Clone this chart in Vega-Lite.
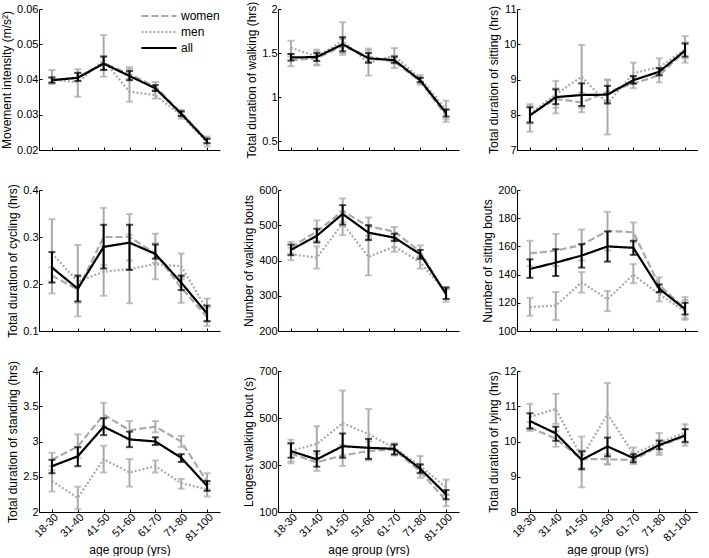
{
"$schema":"https://vega.github.io/schema/vega-lite/v6.json",
"padding":{"left":0,"top":1,"right":0,"bottom":0},
"background":"white",
"data":{"values":[
{"m":"a","a":"18-30","g":"women","v":0.0398,"lo":0.0391,"hi":0.0405},
{"m":"a","a":"31-40","g":"women","v":0.0405,"lo":0.0395,"hi":0.0418},
{"m":"a","a":"41-50","g":"women","v":0.0447,"lo":0.0428,"hi":0.0466},
{"m":"a","a":"51-60","g":"women","v":0.0415,"lo":0.0402,"hi":0.0430},
{"m":"a","a":"61-70","g":"women","v":0.0380,"lo":0.0370,"hi":0.0393},
{"m":"a","a":"71-80","g":"women","v":0.0305,"lo":0.0297,"hi":0.0314},
{"m":"a","a":"81-100","g":"women","v":0.0228,"lo":0.0220,"hi":0.0238},
{"m":"a","a":"18-30","g":"men","v":0.0400,"lo":0.0387,"hi":0.0427},
{"m":"a","a":"31-40","g":"men","v":0.0392,"lo":0.0351,"hi":0.0429},
{"m":"a","a":"41-50","g":"men","v":0.0455,"lo":0.0408,"hi":0.0526},
{"m":"a","a":"51-60","g":"men","v":0.0365,"lo":0.0337,"hi":0.0435},
{"m":"a","a":"61-70","g":"men","v":0.0356,"lo":0.0346,"hi":0.0368},
{"m":"a","a":"71-80","g":"men","v":0.0298,"lo":0.0289,"hi":0.0308},
{"m":"a","a":"81-100","g":"men","v":0.0222,"lo":0.0210,"hi":0.0232},
{"m":"a","a":"18-30","g":"all","v":0.0398,"lo":0.0391,"hi":0.0406},
{"m":"a","a":"31-40","g":"all","v":0.0405,"lo":0.0396,"hi":0.0419},
{"m":"a","a":"41-50","g":"all","v":0.0445,"lo":0.0427,"hi":0.0465},
{"m":"a","a":"51-60","g":"all","v":0.0410,"lo":0.0398,"hi":0.0424},
{"m":"a","a":"61-70","g":"all","v":0.0375,"lo":0.0367,"hi":0.0384},
{"m":"a","a":"71-80","g":"all","v":0.0303,"lo":0.0296,"hi":0.0310},
{"m":"a","a":"81-100","g":"all","v":0.0225,"lo":0.0219,"hi":0.0232},
{"m":"b","a":"18-30","g":"women","v":1.42,"lo":1.35,"hi":1.49},
{"m":"b","a":"31-40","g":"women","v":1.44,"lo":1.37,"hi":1.52},
{"m":"b","a":"41-50","g":"women","v":1.58,"lo":1.50,"hi":1.66},
{"m":"b","a":"51-60","g":"women","v":1.46,"lo":1.40,"hi":1.53},
{"m":"b","a":"61-70","g":"women","v":1.40,"lo":1.33,"hi":1.47},
{"m":"b","a":"71-80","g":"women","v":1.18,"lo":1.14,"hi":1.22},
{"m":"b","a":"81-100","g":"women","v":0.79,"lo":0.72,"hi":0.86},
{"m":"b","a":"18-30","g":"men","v":1.56,"lo":1.46,"hi":1.64},
{"m":"b","a":"31-40","g":"men","v":1.46,"lo":1.36,"hi":1.54},
{"m":"b","a":"41-50","g":"men","v":1.64,"lo":1.48,"hi":1.85},
{"m":"b","a":"51-60","g":"men","v":1.39,"lo":1.245,"hi":1.55},
{"m":"b","a":"61-70","g":"men","v":1.47,"lo":1.38,"hi":1.556},
{"m":"b","a":"71-80","g":"men","v":1.21,"lo":1.16,"hi":1.25},
{"m":"b","a":"81-100","g":"men","v":0.86,"lo":0.75,"hi":0.96},
{"m":"b","a":"18-30","g":"all","v":1.45,"lo":1.415,"hi":1.49},
{"m":"b","a":"31-40","g":"all","v":1.455,"lo":1.41,"hi":1.50},
{"m":"b","a":"41-50","g":"all","v":1.60,"lo":1.52,"hi":1.68},
{"m":"b","a":"51-60","g":"all","v":1.44,"lo":1.39,"hi":1.50},
{"m":"b","a":"61-70","g":"all","v":1.42,"lo":1.39,"hi":1.46},
{"m":"b","a":"71-80","g":"all","v":1.19,"lo":1.17,"hi":1.22},
{"m":"b","a":"81-100","g":"all","v":0.82,"lo":0.78,"hi":0.86},
{"m":"c","a":"18-30","g":"women","v":8.0,"lo":7.75,"hi":8.25},
{"m":"c","a":"31-40","g":"women","v":8.45,"lo":8.2,"hi":8.75},
{"m":"c","a":"41-50","g":"women","v":8.35,"lo":8.07,"hi":8.62},
{"m":"c","a":"51-60","g":"women","v":8.65,"lo":8.35,"hi":8.98},
{"m":"c","a":"61-70","g":"women","v":8.88,"lo":8.75,"hi":9.05},
{"m":"c","a":"71-80","g":"women","v":9.12,"lo":8.92,"hi":9.32},
{"m":"c","a":"81-100","g":"women","v":9.8,"lo":9.48,"hi":10.05},
{"m":"c","a":"18-30","g":"men","v":8.02,"lo":7.52,"hi":8.30},
{"m":"c","a":"31-40","g":"men","v":8.58,"lo":8.04,"hi":8.96},
{"m":"c","a":"41-50","g":"men","v":9.08,"lo":8.2,"hi":9.98},
{"m":"c","a":"51-60","g":"men","v":8.32,"lo":7.44,"hi":9.0},
{"m":"c","a":"61-70","g":"men","v":9.18,"lo":8.9,"hi":9.48},
{"m":"c","a":"71-80","g":"men","v":9.35,"lo":9.12,"hi":9.6},
{"m":"c","a":"81-100","g":"men","v":9.85,"lo":9.6,"hi":10.23},
{"m":"c","a":"18-30","g":"all","v":7.98,"lo":7.78,"hi":8.21},
{"m":"c","a":"31-40","g":"all","v":8.50,"lo":8.30,"hi":8.72},
{"m":"c","a":"41-50","g":"all","v":8.56,"lo":8.25,"hi":8.89},
{"m":"c","a":"51-60","g":"all","v":8.57,"lo":8.32,"hi":8.82},
{"m":"c","a":"61-70","g":"all","v":8.98,"lo":8.88,"hi":9.1},
{"m":"c","a":"71-80","g":"all","v":9.22,"lo":9.12,"hi":9.32},
{"m":"c","a":"81-100","g":"all","v":9.82,"lo":9.65,"hi":10.02},
{"m":"d","a":"18-30","g":"women","v":0.218,"lo":0.205,"hi":0.235},
{"m":"d","a":"31-40","g":"women","v":0.188,"lo":0.16,"hi":0.215},
{"m":"d","a":"41-50","g":"women","v":0.30,"lo":0.24,"hi":0.362},
{"m":"d","a":"51-60","g":"women","v":0.30,"lo":0.25,"hi":0.349},
{"m":"d","a":"61-70","g":"women","v":0.265,"lo":0.245,"hi":0.287},
{"m":"d","a":"71-80","g":"women","v":0.192,"lo":0.16,"hi":0.215},
{"m":"d","a":"81-100","g":"women","v":0.13,"lo":0.111,"hi":0.15},
{"m":"d","a":"18-30","g":"men","v":0.265,"lo":0.18,"hi":0.338},
{"m":"d","a":"31-40","g":"men","v":0.205,"lo":0.131,"hi":0.283},
{"m":"d","a":"41-50","g":"men","v":0.226,"lo":0.175,"hi":0.28},
{"m":"d","a":"51-60","g":"men","v":0.232,"lo":0.159,"hi":0.305},
{"m":"d","a":"61-70","g":"men","v":0.242,"lo":0.21,"hi":0.307},
{"m":"d","a":"71-80","g":"men","v":0.238,"lo":0.21,"hi":0.265},
{"m":"d","a":"81-100","g":"men","v":0.145,"lo":0.12,"hi":0.169},
{"m":"d","a":"18-30","g":"all","v":0.235,"lo":0.203,"hi":0.268},
{"m":"d","a":"31-40","g":"all","v":0.19,"lo":0.163,"hi":0.218},
{"m":"d","a":"41-50","g":"all","v":0.279,"lo":0.233,"hi":0.326},
{"m":"d","a":"51-60","g":"all","v":0.288,"lo":0.23,"hi":0.326},
{"m":"d","a":"61-70","g":"all","v":0.264,"lo":0.254,"hi":0.284},
{"m":"d","a":"71-80","g":"all","v":0.203,"lo":0.187,"hi":0.218},
{"m":"d","a":"81-100","g":"all","v":0.137,"lo":0.121,"hi":0.154},
{"m":"e","a":"18-30","g":"women","v":438,"lo":420,"hi":453},
{"m":"e","a":"31-40","g":"women","v":482,"lo":455,"hi":514},
{"m":"e","a":"41-50","g":"women","v":540,"lo":510,"hi":576},
{"m":"e","a":"51-60","g":"women","v":497,"lo":470,"hi":522},
{"m":"e","a":"61-70","g":"women","v":482,"lo":465,"hi":495},
{"m":"e","a":"71-80","g":"women","v":425,"lo":410,"hi":443},
{"m":"e","a":"81-100","g":"women","v":303,"lo":283,"hi":318},
{"m":"e","a":"18-30","g":"men","v":418,"lo":401,"hi":436},
{"m":"e","a":"31-40","g":"men","v":408,"lo":377,"hi":440},
{"m":"e","a":"41-50","g":"men","v":505,"lo":472,"hi":540},
{"m":"e","a":"51-60","g":"men","v":410,"lo":358,"hi":462},
{"m":"e","a":"61-70","g":"men","v":440,"lo":425,"hi":458},
{"m":"e","a":"71-80","g":"men","v":395,"lo":377,"hi":412},
{"m":"e","a":"81-100","g":"men","v":310,"lo":290,"hi":325},
{"m":"e","a":"18-30","g":"all","v":430,"lo":415,"hi":445},
{"m":"e","a":"31-40","g":"all","v":470,"lo":451,"hi":490},
{"m":"e","a":"41-50","g":"all","v":532,"lo":502,"hi":557},
{"m":"e","a":"51-60","g":"all","v":479,"lo":458,"hi":500},
{"m":"e","a":"61-70","g":"all","v":465,"lo":455,"hi":476},
{"m":"e","a":"71-80","g":"all","v":418,"lo":405,"hi":430},
{"m":"e","a":"81-100","g":"all","v":305,"lo":291,"hi":323},
{"m":"f","a":"18-30","g":"women","v":155,"lo":146,"hi":164},
{"m":"f","a":"31-40","g":"women","v":157,"lo":146,"hi":168.8},
{"m":"f","a":"41-50","g":"women","v":161,"lo":150,"hi":172},
{"m":"f","a":"51-60","g":"women","v":171,"lo":157,"hi":184.5},
{"m":"f","a":"61-70","g":"women","v":170,"lo":163,"hi":177},
{"m":"f","a":"71-80","g":"women","v":132.5,"lo":127,"hi":138},
{"m":"f","a":"81-100","g":"women","v":116,"lo":109,"hi":122},
{"m":"f","a":"18-30","g":"men","v":117,"lo":110.8,"hi":123.5},
{"m":"f","a":"31-40","g":"men","v":118,"lo":107.8,"hi":127.7},
{"m":"f","a":"41-50","g":"men","v":134.5,"lo":127.2,"hi":141.8},
{"m":"f","a":"51-60","g":"men","v":122.5,"lo":114.1,"hi":128.4},
{"m":"f","a":"61-70","g":"men","v":140,"lo":133.9,"hi":147.5},
{"m":"f","a":"71-80","g":"men","v":126,"lo":121,"hi":131},
{"m":"f","a":"81-100","g":"men","v":114,"lo":108,"hi":124},
{"m":"f","a":"18-30","g":"all","v":144,"lo":137.7,"hi":150.8},
{"m":"f","a":"31-40","g":"all","v":148.5,"lo":139,"hi":158},
{"m":"f","a":"41-50","g":"all","v":153.5,"lo":145,"hi":161.6},
{"m":"f","a":"51-60","g":"all","v":160,"lo":149.2,"hi":170.6},
{"m":"f","a":"61-70","g":"all","v":159,"lo":154,"hi":164},
{"m":"f","a":"71-80","g":"all","v":130,"lo":127.6,"hi":133},
{"m":"f","a":"81-100","g":"all","v":115.5,"lo":111.7,"hi":120},
{"m":"g","a":"18-30","g":"women","v":2.74,"lo":2.65,"hi":2.84},
{"m":"g","a":"31-40","g":"women","v":2.93,"lo":2.77,"hi":3.1},
{"m":"g","a":"41-50","g":"women","v":3.38,"lo":3.22,"hi":3.55},
{"m":"g","a":"51-60","g":"women","v":3.16,"lo":3.03,"hi":3.29},
{"m":"g","a":"61-70","g":"women","v":3.21,"lo":3.13,"hi":3.29},
{"m":"g","a":"71-80","g":"women","v":3.0,"lo":2.92,"hi":3.08},
{"m":"g","a":"81-100","g":"women","v":2.43,"lo":2.32,"hi":2.55},
{"m":"g","a":"18-30","g":"men","v":2.44,"lo":2.29,"hi":2.59},
{"m":"g","a":"31-40","g":"men","v":2.2,"lo":2.04,"hi":2.36},
{"m":"g","a":"41-50","g":"men","v":2.75,"lo":2.56,"hi":2.94},
{"m":"g","a":"51-60","g":"men","v":2.56,"lo":2.36,"hi":2.75},
{"m":"g","a":"61-70","g":"men","v":2.65,"lo":2.56,"hi":2.73},
{"m":"g","a":"71-80","g":"men","v":2.41,"lo":2.33,"hi":2.47},
{"m":"g","a":"81-100","g":"men","v":2.32,"lo":2.22,"hi":2.4},
{"m":"g","a":"18-30","g":"all","v":2.65,"lo":2.55,"hi":2.74},
{"m":"g","a":"31-40","g":"all","v":2.79,"lo":2.65,"hi":2.92},
{"m":"g","a":"41-50","g":"all","v":3.21,"lo":3.09,"hi":3.33},
{"m":"g","a":"51-60","g":"all","v":3.03,"lo":2.92,"hi":3.14},
{"m":"g","a":"61-70","g":"all","v":3.0,"lo":2.95,"hi":3.06},
{"m":"g","a":"71-80","g":"all","v":2.77,"lo":2.71,"hi":2.82},
{"m":"g","a":"81-100","g":"all","v":2.37,"lo":2.3,"hi":2.44},
{"m":"h","a":"18-30","g":"women","v":348,"lo":307,"hi":395},
{"m":"h","a":"31-40","g":"women","v":312,"lo":275,"hi":348},
{"m":"h","a":"41-50","g":"women","v":340,"lo":296,"hi":385},
{"m":"h","a":"51-60","g":"women","v":360,"lo":320,"hi":400},
{"m":"h","a":"61-70","g":"women","v":365,"lo":340,"hi":388},
{"m":"h","a":"71-80","g":"women","v":272,"lo":246,"hi":300},
{"m":"h","a":"81-100","g":"women","v":148,"lo":125,"hi":175},
{"m":"h","a":"18-30","g":"men","v":360,"lo":315,"hi":408},
{"m":"h","a":"31-40","g":"men","v":390,"lo":315,"hi":465},
{"m":"h","a":"41-50","g":"men","v":478,"lo":340,"hi":617},
{"m":"h","a":"51-60","g":"men","v":431,"lo":324,"hi":538},
{"m":"h","a":"61-70","g":"men","v":372,"lo":345,"hi":392},
{"m":"h","a":"71-80","g":"men","v":296,"lo":262,"hi":338},
{"m":"h","a":"81-100","g":"men","v":205,"lo":172,"hi":238},
{"m":"h","a":"18-30","g":"all","v":359,"lo":331,"hi":392},
{"m":"h","a":"31-40","g":"all","v":324,"lo":293,"hi":359},
{"m":"h","a":"41-50","g":"all","v":380,"lo":331,"hi":434},
{"m":"h","a":"51-60","g":"all","v":373,"lo":326,"hi":411},
{"m":"h","a":"61-70","g":"all","v":369,"lo":345,"hi":387},
{"m":"h","a":"71-80","g":"all","v":284,"lo":267,"hi":303},
{"m":"h","a":"81-100","g":"all","v":175,"lo":154,"hi":193},
{"m":"i","a":"18-30","g":"women","v":10.4,"lo":10.3,"hi":10.55},
{"m":"i","a":"31-40","g":"women","v":10.08,"lo":9.85,"hi":10.3},
{"m":"i","a":"41-50","g":"women","v":9.5,"lo":9.25,"hi":9.75},
{"m":"i","a":"51-60","g":"women","v":9.5,"lo":9.35,"hi":9.65},
{"m":"i","a":"61-70","g":"women","v":9.47,"lo":9.36,"hi":9.6},
{"m":"i","a":"71-80","g":"women","v":9.87,"lo":9.68,"hi":10.05},
{"m":"i","a":"81-100","g":"women","v":10.15,"lo":9.88,"hi":10.35},
{"m":"i","a":"18-30","g":"men","v":10.7,"lo":10.35,"hi":11.07},
{"m":"i","a":"31-40","g":"men","v":10.92,"lo":10.5,"hi":11.35},
{"m":"i","a":"41-50","g":"men","v":9.55,"lo":8.7,"hi":10.14},
{"m":"i","a":"51-60","g":"men","v":10.78,"lo":9.35,"hi":11.66},
{"m":"i","a":"61-70","g":"men","v":9.65,"lo":9.45,"hi":9.83},
{"m":"i","a":"71-80","g":"men","v":9.97,"lo":9.62,"hi":10.24},
{"m":"i","a":"81-100","g":"men","v":10.25,"lo":9.95,"hi":10.49},
{"m":"i","a":"18-30","g":"all","v":10.58,"lo":10.37,"hi":10.8},
{"m":"i","a":"31-40","g":"all","v":10.23,"lo":10.02,"hi":10.42},
{"m":"i","a":"41-50","g":"all","v":9.48,"lo":9.21,"hi":9.72},
{"m":"i","a":"51-60","g":"all","v":9.86,"lo":9.58,"hi":10.11},
{"m":"i","a":"61-70","g":"all","v":9.53,"lo":9.41,"hi":9.64},
{"m":"i","a":"71-80","g":"all","v":9.9,"lo":9.78,"hi":10.02},
{"m":"i","a":"81-100","g":"all","v":10.17,"lo":9.99,"hi":10.35}
]},
"columns":3,
"spacing":{"row":40,"column":58},
"bounds":"flush",
"resolve":{"scale":{"color":"independent","strokeDash":"independent"}},
"concat":[
{"width":181,"height":141,"transform":[{"filter":"datum.m=='a'"}],
 "encoding":{"x":{"field":"a","type":"ordinal","scale":{"type":"point","padding":0.5,"domain":["18-30","31-40","41-50","51-60","61-70","71-80","81-100"]},"axis":{"labels":false,"title":null}}},
 "layer":[
 {"transform":[{"filter":"datum.g!='all'"}],"mark":{"type":"errorbar","ticks":true,"size":7,"thickness":2,"color":"#aaaaaa"},
  "encoding":{"y":{"field":"lo","type":"quantitative","title":"Movement intensity (m/s²)","scale":{"domain":[0.02,0.06]},"axis":{"values":[0.02,0.03,0.04,0.05,0.06],"format":".2f","labelOverlap":false}},"y2":{"field":"hi"}}},
 {"mark":{"type":"line","strokeWidth":2.2},
  "encoding":{"y":{"field":"v","type":"quantitative","title":"Movement intensity (m/s²)","axis":{"values":[0.02,0.03,0.04,0.05,0.06],"format":".2f","labelOverlap":false}},
  "color":{"field":"g","type":"nominal","scale":{"domain":["women","men","all"],"range":["#aaaaaa","#aaaaaa","#000000"]},"legend":{"orient":"top-right","title":null}},
  "strokeDash":{"field":"g","type":"nominal","scale":{"domain":["women","men","all"],"range":[[7,3],[2,2],[1,0]]},"legend":{"orient":"top-right","title":null}}}},
 {"transform":[{"filter":"datum.g=='all'"}],"mark":{"type":"errorbar","ticks":true,"size":7,"thickness":2,"color":"black"},
  "encoding":{"y":{"field":"lo","type":"quantitative","title":"Movement intensity (m/s²)","axis":{"values":[0.02,0.03,0.04,0.05,0.06],"format":".2f","labelOverlap":false}},"y2":{"field":"hi"}}}
 ]},
{"width":181,"height":141,"transform":[{"filter":"datum.m=='b'"}],
 "encoding":{"x":{"field":"a","type":"ordinal","scale":{"type":"point","padding":0.5,"domain":["18-30","31-40","41-50","51-60","61-70","71-80","81-100"]},"axis":{"labels":false,"title":null}}},
 "layer":[
 {"transform":[{"filter":"datum.g!='all'"}],"mark":{"type":"errorbar","ticks":true,"size":7,"thickness":2,"color":"#aaaaaa"},
  "encoding":{"y":{"field":"lo","type":"quantitative","title":"Total duration of walking (hrs)","scale":{"domain":[0.5,2]},"axis":{"values":[0.5,1,1.5,2],"format":"~g","labelOverlap":false}},"y2":{"field":"hi"}}},
 {"mark":{"type":"line","strokeWidth":2.2},
  "encoding":{"y":{"field":"v","type":"quantitative","title":"Total duration of walking (hrs)","axis":{"values":[0.5,1,1.5,2],"format":"~g","labelOverlap":false}},
  "color":{"field":"g","type":"nominal","scale":{"domain":["women","men","all"],"range":["#aaaaaa","#aaaaaa","#000000"]},"legend":null},
  "strokeDash":{"field":"g","type":"nominal","scale":{"domain":["women","men","all"],"range":[[7,3],[2,2],[1,0]]},"legend":null}}},
 {"transform":[{"filter":"datum.g=='all'"}],"mark":{"type":"errorbar","ticks":true,"size":7,"thickness":2,"color":"black"},
  "encoding":{"y":{"field":"lo","type":"quantitative","title":"Total duration of walking (hrs)","axis":{"values":[0.5,1,1.5,2],"format":"~g","labelOverlap":false}},"y2":{"field":"hi"}}}
 ]},
{"width":181,"height":141,"transform":[{"filter":"datum.m=='c'"}],
 "encoding":{"x":{"field":"a","type":"ordinal","scale":{"type":"point","padding":0.5,"domain":["18-30","31-40","41-50","51-60","61-70","71-80","81-100"]},"axis":{"labels":false,"title":null}}},
 "layer":[
 {"transform":[{"filter":"datum.g!='all'"}],"mark":{"type":"errorbar","ticks":true,"size":7,"thickness":2,"color":"#aaaaaa"},
  "encoding":{"y":{"field":"lo","type":"quantitative","title":"Total duration of sitting (hrs)","scale":{"domain":[7,11]},"axis":{"values":[7,8,9,10,11],"format":"d","labelOverlap":false}},"y2":{"field":"hi"}}},
 {"mark":{"type":"line","strokeWidth":2.2},
  "encoding":{"y":{"field":"v","type":"quantitative","title":"Total duration of sitting (hrs)","axis":{"values":[7,8,9,10,11],"format":"d","labelOverlap":false}},
  "color":{"field":"g","type":"nominal","scale":{"domain":["women","men","all"],"range":["#aaaaaa","#aaaaaa","#000000"]},"legend":null},
  "strokeDash":{"field":"g","type":"nominal","scale":{"domain":["women","men","all"],"range":[[7,3],[2,2],[1,0]]},"legend":null}}},
 {"transform":[{"filter":"datum.g=='all'"}],"mark":{"type":"errorbar","ticks":true,"size":7,"thickness":2,"color":"black"},
  "encoding":{"y":{"field":"lo","type":"quantitative","title":"Total duration of sitting (hrs)","axis":{"values":[7,8,9,10,11],"format":"d","labelOverlap":false}},"y2":{"field":"hi"}}}
 ]},
{"width":181,"height":141,"transform":[{"filter":"datum.m=='d'"}],
 "encoding":{"x":{"field":"a","type":"ordinal","scale":{"type":"point","padding":0.5,"domain":["18-30","31-40","41-50","51-60","61-70","71-80","81-100"]},"axis":{"labels":false,"title":null}}},
 "layer":[
 {"transform":[{"filter":"datum.g!='all'"}],"mark":{"type":"errorbar","ticks":true,"size":7,"thickness":2,"color":"#aaaaaa"},
  "encoding":{"y":{"field":"lo","type":"quantitative","title":"Total duration of cycling (hrs)","scale":{"domain":[0.1,0.4]},"axis":{"values":[0.1,0.2,0.3,0.4],"format":".1f","labelOverlap":false}},"y2":{"field":"hi"}}},
 {"mark":{"type":"line","strokeWidth":2.2},
  "encoding":{"y":{"field":"v","type":"quantitative","title":"Total duration of cycling (hrs)","axis":{"values":[0.1,0.2,0.3,0.4],"format":".1f","labelOverlap":false}},
  "color":{"field":"g","type":"nominal","scale":{"domain":["women","men","all"],"range":["#aaaaaa","#aaaaaa","#000000"]},"legend":null},
  "strokeDash":{"field":"g","type":"nominal","scale":{"domain":["women","men","all"],"range":[[7,3],[2,2],[1,0]]},"legend":null}}},
 {"transform":[{"filter":"datum.g=='all'"}],"mark":{"type":"errorbar","ticks":true,"size":7,"thickness":2,"color":"black"},
  "encoding":{"y":{"field":"lo","type":"quantitative","title":"Total duration of cycling (hrs)","axis":{"values":[0.1,0.2,0.3,0.4],"format":".1f","labelOverlap":false}},"y2":{"field":"hi"}}}
 ]},
{"width":181,"height":141,"transform":[{"filter":"datum.m=='e'"}],
 "encoding":{"x":{"field":"a","type":"ordinal","scale":{"type":"point","padding":0.5,"domain":["18-30","31-40","41-50","51-60","61-70","71-80","81-100"]},"axis":{"labels":false,"title":null}}},
 "layer":[
 {"transform":[{"filter":"datum.g!='all'"}],"mark":{"type":"errorbar","ticks":true,"size":7,"thickness":2,"color":"#aaaaaa"},
  "encoding":{"y":{"field":"lo","type":"quantitative","title":"Number of walking bouts","scale":{"domain":[200,600]},"axis":{"values":[200,300,400,500,600],"format":"d","labelOverlap":false}},"y2":{"field":"hi"}}},
 {"mark":{"type":"line","strokeWidth":2.2},
  "encoding":{"y":{"field":"v","type":"quantitative","title":"Number of walking bouts","axis":{"values":[200,300,400,500,600],"format":"d","labelOverlap":false}},
  "color":{"field":"g","type":"nominal","scale":{"domain":["women","men","all"],"range":["#aaaaaa","#aaaaaa","#000000"]},"legend":null},
  "strokeDash":{"field":"g","type":"nominal","scale":{"domain":["women","men","all"],"range":[[7,3],[2,2],[1,0]]},"legend":null}}},
 {"transform":[{"filter":"datum.g=='all'"}],"mark":{"type":"errorbar","ticks":true,"size":7,"thickness":2,"color":"black"},
  "encoding":{"y":{"field":"lo","type":"quantitative","title":"Number of walking bouts","axis":{"values":[200,300,400,500,600],"format":"d","labelOverlap":false}},"y2":{"field":"hi"}}}
 ]},
{"width":181,"height":141,"transform":[{"filter":"datum.m=='f'"}],
 "encoding":{"x":{"field":"a","type":"ordinal","scale":{"type":"point","padding":0.5,"domain":["18-30","31-40","41-50","51-60","61-70","71-80","81-100"]},"axis":{"labels":false,"title":null}}},
 "layer":[
 {"transform":[{"filter":"datum.g!='all'"}],"mark":{"type":"errorbar","ticks":true,"size":7,"thickness":2,"color":"#aaaaaa"},
  "encoding":{"y":{"field":"lo","type":"quantitative","title":"Number of sitting bouts","scale":{"domain":[100,200]},"axis":{"values":[100,120,140,160,180,200],"format":"d","labelOverlap":false}},"y2":{"field":"hi"}}},
 {"mark":{"type":"line","strokeWidth":2.2},
  "encoding":{"y":{"field":"v","type":"quantitative","title":"Number of sitting bouts","axis":{"values":[100,120,140,160,180,200],"format":"d","labelOverlap":false}},
  "color":{"field":"g","type":"nominal","scale":{"domain":["women","men","all"],"range":["#aaaaaa","#aaaaaa","#000000"]},"legend":null},
  "strokeDash":{"field":"g","type":"nominal","scale":{"domain":["women","men","all"],"range":[[7,3],[2,2],[1,0]]},"legend":null}}},
 {"transform":[{"filter":"datum.g=='all'"}],"mark":{"type":"errorbar","ticks":true,"size":7,"thickness":2,"color":"black"},
  "encoding":{"y":{"field":"lo","type":"quantitative","title":"Number of sitting bouts","axis":{"values":[100,120,140,160,180,200],"format":"d","labelOverlap":false}},"y2":{"field":"hi"}}}
 ]},
{"width":181,"height":141,"transform":[{"filter":"datum.m=='g'"}],
 "encoding":{"x":{"field":"a","type":"ordinal","scale":{"type":"point","padding":0.5,"domain":["18-30","31-40","41-50","51-60","61-70","71-80","81-100"]},"axis":{"labelAngle":-45,"title":"age group (yrs)","labelPadding":2,"titlePadding":2}}},
 "layer":[
 {"transform":[{"filter":"datum.g!='all'"}],"mark":{"type":"errorbar","ticks":true,"size":7,"thickness":2,"color":"#aaaaaa"},
  "encoding":{"y":{"field":"lo","type":"quantitative","title":"Total duration of standing (hrs)","scale":{"domain":[2,4]},"axis":{"values":[2,2.5,3,3.5,4],"format":"~g","labelOverlap":false}},"y2":{"field":"hi"}}},
 {"mark":{"type":"line","strokeWidth":2.2},
  "encoding":{"y":{"field":"v","type":"quantitative","title":"Total duration of standing (hrs)","axis":{"values":[2,2.5,3,3.5,4],"format":"~g","labelOverlap":false}},
  "color":{"field":"g","type":"nominal","scale":{"domain":["women","men","all"],"range":["#aaaaaa","#aaaaaa","#000000"]},"legend":null},
  "strokeDash":{"field":"g","type":"nominal","scale":{"domain":["women","men","all"],"range":[[7,3],[2,2],[1,0]]},"legend":null}}},
 {"transform":[{"filter":"datum.g=='all'"}],"mark":{"type":"errorbar","ticks":true,"size":7,"thickness":2,"color":"black"},
  "encoding":{"y":{"field":"lo","type":"quantitative","title":"Total duration of standing (hrs)","axis":{"values":[2,2.5,3,3.5,4],"format":"~g","labelOverlap":false}},"y2":{"field":"hi"}}}
 ]},
{"width":181,"height":141,"transform":[{"filter":"datum.m=='h'"}],
 "encoding":{"x":{"field":"a","type":"ordinal","scale":{"type":"point","padding":0.5,"domain":["18-30","31-40","41-50","51-60","61-70","71-80","81-100"]},"axis":{"labelAngle":-45,"title":"age group (yrs)","labelPadding":2,"titlePadding":2}}},
 "layer":[
 {"transform":[{"filter":"datum.g!='all'"}],"mark":{"type":"errorbar","ticks":true,"size":7,"thickness":2,"color":"#aaaaaa"},
  "encoding":{"y":{"field":"lo","type":"quantitative","title":"Longest walking bout (s)","scale":{"domain":[100,700]},"axis":{"values":[100,300,500,700],"format":"d","labelOverlap":false}},"y2":{"field":"hi"}}},
 {"mark":{"type":"line","strokeWidth":2.2},
  "encoding":{"y":{"field":"v","type":"quantitative","title":"Longest walking bout (s)","axis":{"values":[100,300,500,700],"format":"d","labelOverlap":false}},
  "color":{"field":"g","type":"nominal","scale":{"domain":["women","men","all"],"range":["#aaaaaa","#aaaaaa","#000000"]},"legend":null},
  "strokeDash":{"field":"g","type":"nominal","scale":{"domain":["women","men","all"],"range":[[7,3],[2,2],[1,0]]},"legend":null}}},
 {"transform":[{"filter":"datum.g=='all'"}],"mark":{"type":"errorbar","ticks":true,"size":7,"thickness":2,"color":"black"},
  "encoding":{"y":{"field":"lo","type":"quantitative","title":"Longest walking bout (s)","axis":{"values":[100,300,500,700],"format":"d","labelOverlap":false}},"y2":{"field":"hi"}}}
 ]},
{"width":181,"height":141,"transform":[{"filter":"datum.m=='i'"}],
 "encoding":{"x":{"field":"a","type":"ordinal","scale":{"type":"point","padding":0.5,"domain":["18-30","31-40","41-50","51-60","61-70","71-80","81-100"]},"axis":{"labelAngle":-45,"title":"age group (yrs)","labelPadding":2,"titlePadding":2}}},
 "layer":[
 {"transform":[{"filter":"datum.g!='all'"}],"mark":{"type":"errorbar","ticks":true,"size":7,"thickness":2,"color":"#aaaaaa"},
  "encoding":{"y":{"field":"lo","type":"quantitative","title":"Total duration of lying (hrs)","scale":{"domain":[8,12]},"axis":{"values":[8,9,10,11,12],"format":"d","labelOverlap":false}},"y2":{"field":"hi"}}},
 {"mark":{"type":"line","strokeWidth":2.2},
  "encoding":{"y":{"field":"v","type":"quantitative","title":"Total duration of lying (hrs)","axis":{"values":[8,9,10,11,12],"format":"d","labelOverlap":false}},
  "color":{"field":"g","type":"nominal","scale":{"domain":["women","men","all"],"range":["#aaaaaa","#aaaaaa","#000000"]},"legend":null},
  "strokeDash":{"field":"g","type":"nominal","scale":{"domain":["women","men","all"],"range":[[7,3],[2,2],[1,0]]},"legend":null}}},
 {"transform":[{"filter":"datum.g=='all'"}],"mark":{"type":"errorbar","ticks":true,"size":7,"thickness":2,"color":"black"},
  "encoding":{"y":{"field":"lo","type":"quantitative","title":"Total duration of lying (hrs)","axis":{"values":[8,9,10,11,12],"format":"d","labelOverlap":false}},"y2":{"field":"hi"}}}
 ]}
],
"config":{
 "font":"Liberation Sans",
 "view":{"stroke":null},
 "axis":{"grid":false,"labelOverlap":false,"domainColor":"#000000","tickColor":"#000000","labelColor":"#000000","titleColor":"#000000","labelFont":"Liberation Sans","titleFont":"Liberation Sans","labelFontSize":11,"titleFontSize":12,"titleFontWeight":"normal","tickSize":-3,"labelPadding":4,"titlePadding":3,"domainWidth":1},
 "legend":{"labelFont":"Liberation Sans","labelFontSize":12,"labelColor":"#000000","symbolType":"M-3.2,0H3.2","symbolSize":121,"symbolStrokeWidth":2.2,"labelOffset":15,"rowPadding":3,"padding":0,"offset":0}
}
}
